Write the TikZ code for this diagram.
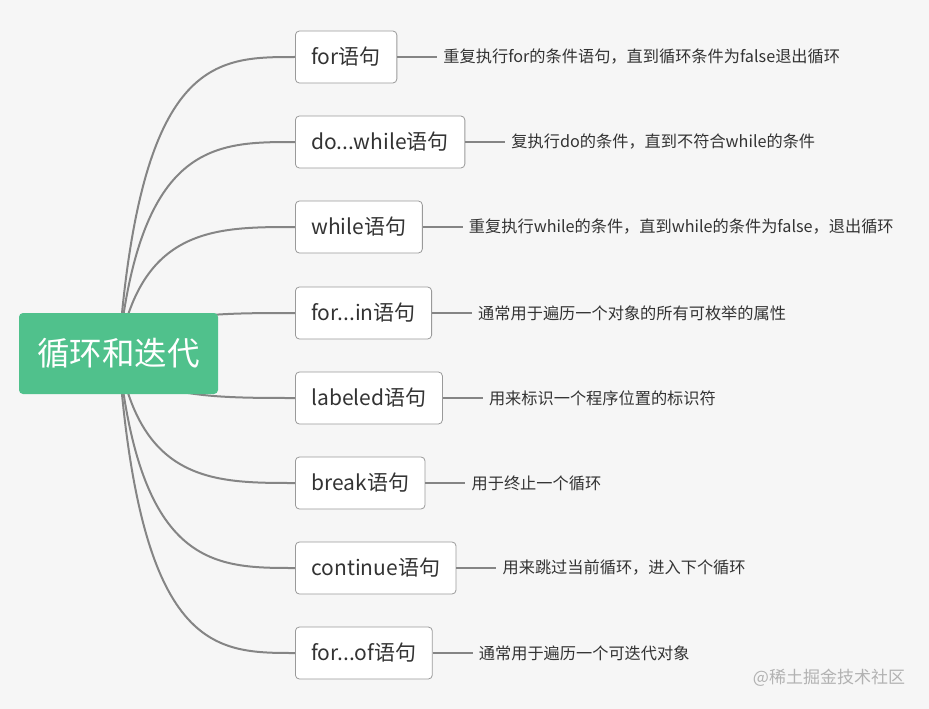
\documentclass[tikz,border=0pt]{standalone}
\usepackage{fontspec}
\setmainfont{Noto Sans CJK SC}
\usepackage{xcolor}
\usepackage{tikz}
\usetikzlibrary{positioning}
\pgfdeclarelayer{background}
\pgfsetlayers{background,main}
\definecolor{topicgreen}{HTML}{50C18C}
\definecolor{paper}{HTML}{F6F6F6}
\definecolor{ink}{HTML}{333333}
\definecolor{wire}{HTML}{858585}
\definecolor{rim}{HTML}{9A9A9A}

\begin{document}
\begin{tikzpicture}[x=1pt,y=-1pt,
    topic/.style={fill=topicgreen,rounded corners=4pt,text=white,
                  minimum width=199pt,minimum height=81pt,
                  font=\fontsize{32.5}{36}\selectfont},
    stmt/.style={draw=rim,fill=white,rounded corners=4pt,line width=0.8pt,
                 minimum height=52pt,inner xsep=16pt,anchor=west,text=ink,
                 font=\fontsize{21}{24}\selectfont},
    note/.style={right=40pt of #1,inner xsep=6pt,inner ysep=0pt,text=ink,
                 font=\fontsize{16.2}{18}\selectfont},
    branch/.style={draw=wire,line width=2pt},
    twig/.style={draw=wire,line width=1.2pt},
    stamp/.style={text=black!30,font=\fontsize{17}{20}\selectfont}
  ]
    \useasboundingbox (0,0) rectangle (929,709);
    \node[topic] (hub) at (118.5,353.5) {循环和迭代};
    \coordinate (hubx) at ([xshift=22pt]hub.center);

    \node[stmt] (c1) at (295,57) {for语句};
    \node[stmt] (c2) at (295,142) {do...while语句};
    \node[stmt] (c3) at (295,227) {while语句};
    \node[stmt] (c4) at (295,313) {for...in语句};
    \node[stmt] (c5) at (295,398) {labeled语句};
    \node[stmt] (c6) at (295,483) {break语句};
    \node[stmt] (c7) at (295,568) {continue语句};
    \node[stmt] (c8) at (295,653) {for...of语句};

    \node[note=c1] (n1) {重复执行for的条件语句，直到循环条件为false退出循环};
    \node[note=c2] (n2) {复执行do的条件，直到不符合while的条件};
    \node[note=c3] (n3) {重复执行while的条件，直到while的条件为false，退出循环};
    \node[note=c4] (n4) {通常用于遍历一个对象的所有可枚举的属性};
    \node[note=c5] (n5) {用来标识一个程序位置的标识符};
    \node[note=c6] (n6) {用于终止一个循环};
    \node[note=c7] (n7) {用来跳过当前循环，进入下个循环};
    \node[note=c8] (n8) {通常用于遍历一个可迭代对象};

    \node[stamp] (wm) at (829,678) {@稀土掘金技术社区};

    \begin{pgfonlayer}{background}
      \fill[paper] (0,0) rectangle (929,709);
      % curved branches out of the central topic
      \draw[branch] (hub.center) .. controls (hubx |- c1.west) and ([xshift=-80pt]c1.west) .. (c1.west);
      \draw[branch] (hub.center) .. controls (hubx |- c2.west) and ([xshift=-80pt]c2.west) .. (c2.west);
      \draw[branch] (hub.center) .. controls (hubx |- c3.west) and ([xshift=-80pt]c3.west) .. (c3.west);
      \draw[branch] (hub.center) .. controls (hubx |- c4.west) and ([xshift=-80pt]c4.west) .. (c4.west);
      \draw[branch] (hub.center) .. controls (hubx |- c5.west) and ([xshift=-80pt]c5.west) .. (c5.west);
      \draw[branch] (hub.center) .. controls (hubx |- c6.west) and ([xshift=-80pt]c6.west) .. (c6.west);
      \draw[branch] (hub.center) .. controls (hubx |- c7.west) and ([xshift=-80pt]c7.west) .. (c7.west);
      \draw[branch] (hub.center) .. controls (hubx |- c8.west) and ([xshift=-80pt]c8.west) .. (c8.west);
    \end{pgfonlayer}

    % short ties to the notes
    \draw[twig] (c1) -- (n1);
    \draw[twig] (c2) -- (n2);
    \draw[twig] (c3) -- (n3);
    \draw[twig] (c4) -- (n4);
    \draw[twig] (c5) -- (n5);
    \draw[twig] (c6) -- (n6);
    \draw[twig] (c7) -- (n7);
    \draw[twig] (c8) -- (n8);
  \end{tikzpicture}
\end{document}
